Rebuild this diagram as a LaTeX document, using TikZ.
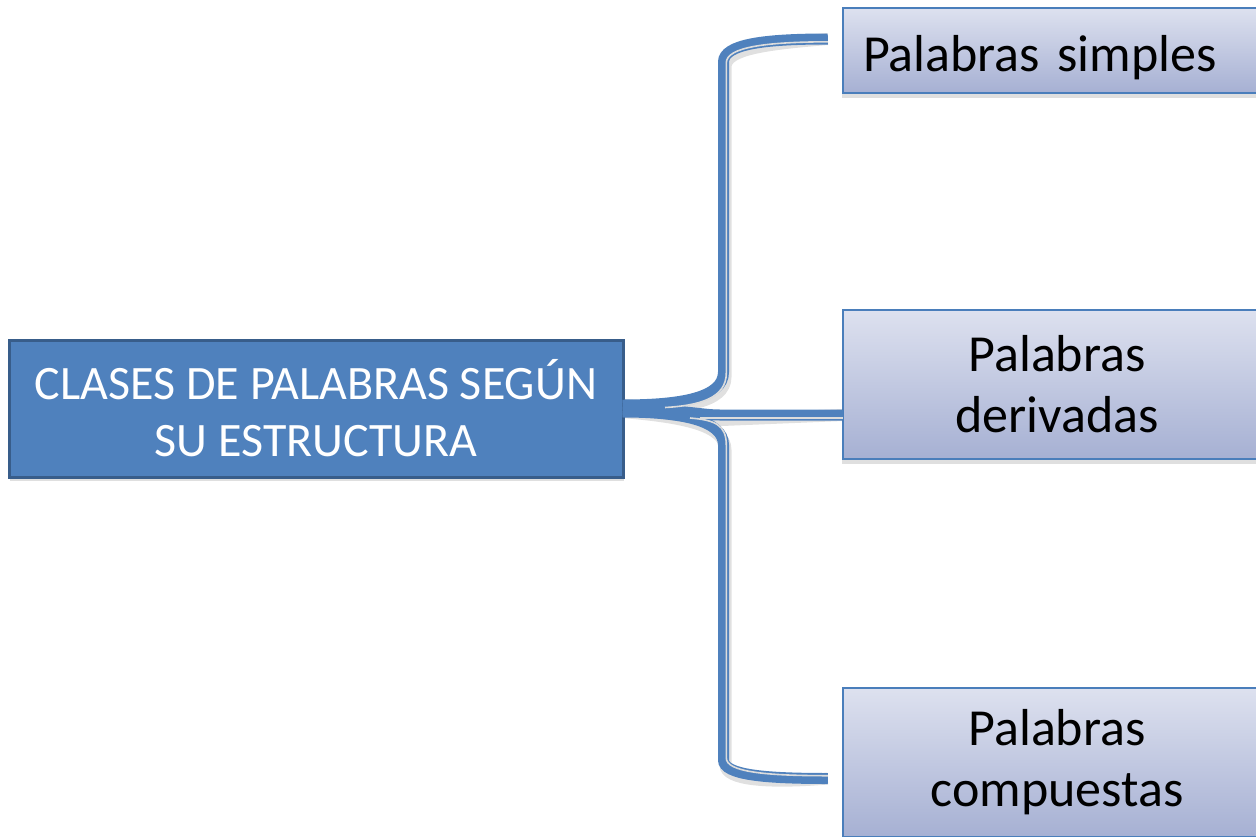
\documentclass[tikz,border=0pt]{standalone}
\usepackage{fontspec}
\setmainfont{Carlito}
\usetikzlibrary{shadows,calc}
\definecolor{mainblue}{HTML}{4F81BD}
\definecolor{mainborder}{HTML}{385D8A}
\definecolor{boxtop}{HTML}{DDE1EF}
\definecolor{boxbot}{HTML}{A6B0D3}
\definecolor{boxborder}{HTML}{4A7EBB}
\definecolor{gapcol}{HTML}{DCDCDC}
\begin{document}
\begin{tikzpicture}[x=1pt,y=-1pt,
  mainbox/.style={draw=mainborder, line width=3pt, fill=mainblue, text=white,
    minimum width=614pt, minimum height=137pt, inner sep=0pt, align=center,
    font=\fontsize{48}{57}\selectfont,
    drop shadow={shadow xshift=1pt, shadow yshift=-4pt, opacity=0.25}},
  subbox/.style={draw=boxborder, line width=2.5pt, top color=boxtop, bottom color=boxbot,
    minimum width=428pt, inner sep=0pt, align=center,
    font=\fontsize{52}{61}\selectfont,
    drop shadow={shadow xshift=-1pt, shadow yshift=-5pt, opacity=0.25}},
  conn/.style={draw=mainblue, line width=11pt},
  connshadow/.style={draw=black, opacity=0.12, line width=12pt},
  gapline/.style={draw=gapcol, line width=1.6pt}]
\useasboundingbox (0,0) rectangle (1256,836);
\clip (0,0) rectangle (1256,836);

% nodes
\node[mainbox] (main) at (316,408.5) {CLASES DE PALABRAS SEGÚN\\SU ESTRUCTURA};
\node[subbox, minimum height=85pt, text width=388pt, align=left, text depth=0pt] (b1) at (1057,50.5) {\raisebox{-6pt}{Palabras simples}};
\node[subbox, minimum height=149pt] (b2) at (1057,384.5) {Palabras\\derivadas};
\node[subbox, minimum height=149pt] (b3) at (1057,762.5) {Palabras\\compuestas};

% connector end points
\coordinate (e1) at ($(b1.west)+(-14,-11.5)$);
\coordinate (e2) at ($(b2.west)+(1,30.5)$);
\coordinate (e3) at ($(b3.west)+(-14,16)$);

% shadows of connectors
\begin{scope}[shift={(2,5)}]
\draw[connshadow] ($(main.east)+(-2,-3.5)$) .. controls (680,405) and (723.5,398) .. (723.5,372) -- (723.5,62) .. controls (723.5,44) and (765,39) .. (e1);
\draw[connshadow] ($(main.east)+(-2,0.5)$) .. controls (680,409) and (700,415) .. (720,415) -- (e2);
\draw[connshadow] ($(main.east)+(-2,3.5)$) .. controls (680,412) and (723.5,420) .. (723.5,445) -- (723.5,760) .. controls (723.5,775) and (765,778.5) .. (e3);
\end{scope}

% connectors
\draw[conn] ($(main.east)+(-2,-3.5)$) .. controls (680,405) and (723.5,398) .. (723.5,372) -- (723.5,62) .. controls (723.5,44) and (765,39) .. (e1);
\draw[conn] ($(main.east)+(-2,0.5)$) .. controls (680,409) and (700,415) .. (720,415) -- (e2);
\draw[conn] ($(main.east)+(-2,3.5)$) .. controls (680,412) and (723.5,420) .. (723.5,445) -- (723.5,760) .. controls (723.5,775) and (765,778.5) .. (e3);

% inner light lines
\draw[gapline] (665,407.5) .. controls (700,405.5) and (726.3,398) .. (726.3,373) -- (726.3,63) .. controls (726.3,47) and (766,42) .. ($(e1)+(0,2.8)$);
\draw[gapline] (700,417.8) -- ($(e2)+(0,2.8)$);
\draw[gapline] (690,418) .. controls (715,420) and (726.3,425) .. (726.3,445) -- (726.3,758) .. controls (726.3,772) and (766,775.7) .. ($(e3)+(0,-2.8)$);
\end{tikzpicture}
\end{document}
